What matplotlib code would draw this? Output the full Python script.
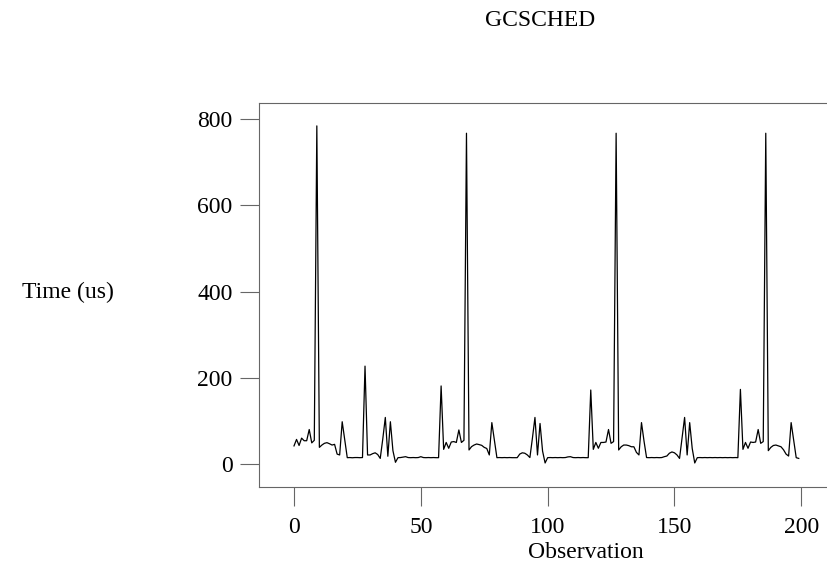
import numpy as np
import matplotlib
matplotlib.use("Agg")
import matplotlib.pyplot as plt

# GC scheduling latency per observation (microseconds)
time_us = [
    42, 57, 43, 60, 54, 54, 80, 49, 55, 784,
    38.6, 44, 48, 49.5, 47, 44, 45.6, 23, 21, 98,
    56, 14.7, 15, 14.5, 15, 15, 14.7, 15, 227, 21,
    21, 24, 26, 22, 13, 58, 108, 18, 98, 31,
    4, 14.7, 15, 16, 17, 15, 14.7, 15, 14.7, 15,
    17, 15, 14.7, 15, 14.7, 15, 14.7, 14.7, 181, 34,
    50, 36.5, 51, 52, 50, 79, 50, 55, 767, 32.6,
    40.3, 44, 46.4, 45, 43.3, 38.6, 36, 21, 96, 55,
    14.7, 15, 14.7, 15, 14.7, 15, 14.7, 14.7, 14.7, 23,
    26, 25, 21, 15, 60, 108, 21, 94, 30, 2.4,
    14.7, 15, 14.7, 15, 14.7, 15, 14.7, 15, 16.5, 17,
    15, 14.7, 15, 14.7, 15, 14.7, 14.7, 171.6, 34, 50,
    36.5, 50, 50, 51, 80, 48, 52, 767, 32.6, 40,
    44, 44, 42.6, 40, 40, 27, 21, 96, 53, 15,
    14.7, 15, 14.7, 15, 14.7, 15, 17, 18.5, 25, 28,
    26, 21, 13, 60, 108, 21, 96, 36, 2.4, 14.7,
    15, 14.7, 15, 14.7, 15, 14.7, 15, 14.7, 15, 14.7,
    15, 14.7, 15, 14.7, 15, 14.7, 173, 34, 50, 36.5,
    51, 50, 51, 80, 48, 52, 767, 31, 38.6, 43,
    44, 42, 40, 33, 23, 18.5, 96, 55, 14.7, 13,
]
observation = np.arange(len(time_us))

x_ticks = [0, 50, 100, 150, 200]
y_ticks = [0, 200, 400, 600, 800]

plt.rcParams["font.family"] = ["Liberation Serif", "DejaVu Serif"]
plt.rcParams["font.size"] = 17

fig = plt.figure(figsize=(8.27, 5.77), dpi=100)
ax = fig.add_axes([259 / 827, 1 - 486.7 / 577, 575 / 827, 383.4 / 577])

ax.plot(observation, time_us, color="black", linewidth=0.9)

ax.set_xlim(-13.8, 212.9)
ax.set_ylim(-52.6, 836.4)
ax.set_xticks(x_ticks)
ax.set_yticks(y_ticks)

frame_color = "#666666"
for side in ("top", "left", "bottom", "right"):
    ax.spines[side].set_color(frame_color)
    ax.spines[side].set_linewidth(0.8)

ax.tick_params(axis="both", direction="out", length=14, width=0.8,
               color=frame_color, labelsize=17)
ax.tick_params(axis="x", pad=8)
ax.tick_params(axis="y", pad=5)

ax.set_xlabel("Observation", fontsize=17)
ax.xaxis.set_label_coords((586 - 259) / 575, -(553 - 486.7) / 383.4)
ax.xaxis.label.set_va("center")

ax.set_ylabel("Time (us)", fontsize=17, rotation=0, ha="center", va="center")
ax.yaxis.set_label_coords((68 - 259) / 575, 0.5 - (292 - 295) / 383.4)

ax.text((540 - 259) / 575, 1 + (103.3 - 20) / 383.4, "GCSCHED",
        transform=ax.transAxes, ha="center", va="center", fontsize=17)

fig.savefig("out.png", dpi=100)
